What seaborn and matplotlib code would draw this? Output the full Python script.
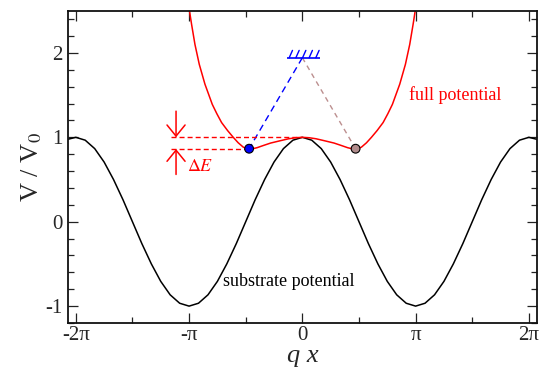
import numpy as np
import pandas as pd
import matplotlib
matplotlib.use("Agg")
import matplotlib.pyplot as plt
from matplotlib.ticker import MultipleLocator, FixedLocator
import seaborn as sns

# ---------------- data (x in units of pi) ----------------
substrate_x = [-2.069, -2.000, -1.917, -1.833, -1.750, -1.667, -1.583, -1.500, -1.417, -1.333,
               -1.250, -1.167, -1.083, -1.000, -0.917, -0.833, -0.750, -0.667, -0.583, -0.500,
               -0.417, -0.333, -0.250, -0.167, -0.083, 0.000, 0.083, 0.167, 0.250, 0.333,
               0.417, 0.500, 0.583, 0.667, 0.750, 0.833, 0.917, 1.000, 1.083, 1.167,
               1.250, 1.333, 1.417, 1.500, 1.583, 1.667, 1.750, 1.833, 1.917, 2.000, 2.069]
substrate_y = [0.977, 1.000, 0.966, 0.866, 0.707, 0.500, 0.259, 0.000, -0.259, -0.500,
               -0.707, -0.866, -0.966, -1.000, -0.966, -0.866, -0.707, -0.500, -0.259, 0.000,
               0.259, 0.500, 0.707, 0.866, 0.966, 1.000, 0.966, 0.866, 0.707, 0.500,
               0.259, 0.000, -0.259, -0.500, -0.707, -0.866, -0.966, -1.000, -0.966, -0.866,
               -0.707, -0.500, -0.259, 0.000, 0.259, 0.500, 0.707, 0.866, 0.966, 1.000, 0.977]

full_x = [-1.000, -0.978, -0.948, -0.910, -0.860, -0.795, -0.755, -0.713, -0.660, -0.610,
          -0.566, -0.522, -0.495, -0.470, -0.440, -0.400, -0.340, -0.280, -0.200, -0.120,
          -0.060, 0.000,
          0.060, 0.120, 0.200, 0.280, 0.340, 0.400, 0.440, 0.470, 0.495, 0.522,
          0.566, 0.610, 0.660, 0.713, 0.755, 0.795, 0.860, 0.910, 0.948, 0.978, 1.000]
full_y = [2.53, 2.34, 2.10, 1.865, 1.63, 1.39, 1.28, 1.175, 1.08, 1.00,
          0.935, 0.884, 0.868, 0.862, 0.864, 0.877, 0.905, 0.932, 0.958, 0.983,
          0.995, 1.00,
          0.995, 0.983, 0.958, 0.932, 0.905, 0.877, 0.864, 0.862, 0.868, 0.884,
          0.935, 1.00, 1.08, 1.175, 1.28, 1.39, 1.63, 1.865, 2.10, 2.34, 2.53]

particle_x = [-0.470, 0.470]
particle_y = [0.865, 0.865]
particle_names = ["left", "right"]

anchor_x = [-0.134, 0.154]
anchor_y = 1.943
hatch_x = [-0.116, -0.057, 0.002, 0.060, 0.119]
hatch_dx = 0.029
hatch_top = 2.03

barrier_top = 1.0
barrier_bottom = 0.862
barrier_left = -1.16
arrow_x = -1.115
arrow_top_start = 1.31
arrow_bottom_start = 0.56

xtick_pos = [-2, -1, 0, 1, 2]
xtick_labels = ["-2\u03c0", "-\u03c0", "0", "\u03c0", "2\u03c0"]
xminor_pos = [-1.5, -0.5, 0.5, 1.5]
ytick_pos = [-1, 0, 1, 2]
ytick_labels = ["-1", "0", "1", "2"]

# ---------------- style ----------------
sns.set_style("ticks")
plt.rcParams["font.family"] = ["Liberation Serif", "DejaVu Serif"]
plt.rcParams["mathtext.fontset"] = "stix"

fig = plt.figure(figsize=(5.43, 3.67), dpi=100)
ax = fig.add_axes([0.1252, 0.1199, 0.8632, 0.8509])

sub_df = pd.DataFrame({"x": substrate_x, "y": substrate_y})
full_df = pd.DataFrame({"x": full_x, "y": full_y})

sns.lineplot(data=sub_df, x="x", y="y", ax=ax, color="black", lw=1.1)
sns.lineplot(data=full_df, x="x", y="y", ax=ax, color="red", lw=1.1)

# springs
ax.plot([0, particle_x[0]], [anchor_y, particle_y[0]], color="blue", lw=1.0,
        linestyle=(0, (4.8, 3.2)))
ax.plot([0, particle_x[1]], [anchor_y, particle_y[1]], color="#bc8f8f", lw=1.0,
        linestyle=(0, (3.6, 3.0)))

# anchor with hatch
ax.plot(anchor_x, [anchor_y, anchor_y], color="blue", lw=1.2, solid_capstyle="butt")
for hx in hatch_x:
    ax.plot([hx, hx + hatch_dx], [anchor_y, hatch_top], color="blue", lw=1.0)

# barrier dashed lines
ax.plot([barrier_left, 0], [barrier_top, barrier_top], color="red", lw=1.0,
        linestyle=(0, (3.6, 2.2)))
ax.plot([barrier_left, particle_x[0]], [barrier_bottom, barrier_bottom], color="red", lw=1.0,
        linestyle=(0, (3.6, 2.2)))

# particles
pts = pd.DataFrame({"x": particle_x, "y": particle_y, "p": particle_names})
sns.scatterplot(data=pts, x="x", y="y", hue="p", palette={"left": "blue", "right": "#b08c8c"},
                s=40, edgecolor="black", linewidth=0.8, ax=ax, legend=False, zorder=5)

# Delta E arrows
arrstyle = "->,head_length=0.8,head_width=0.65"
ax.annotate("", xy=(arrow_x, barrier_top), xytext=(arrow_x, arrow_top_start),
            arrowprops=dict(arrowstyle=arrstyle, color="red", lw=1.1,
                            shrinkA=0, shrinkB=0, mutation_scale=10))
ax.annotate("", xy=(arrow_x, barrier_bottom), xytext=(arrow_x, arrow_bottom_start),
            arrowprops=dict(arrowstyle=arrstyle, color="red", lw=1.1,
                            shrinkA=0, shrinkB=0, mutation_scale=10))
ax.text(-1.018, 0.658, r"$\Delta E$", color="red", fontsize=13, ha="left", va="center")

ax.text(0.939, 1.50, "full potential", color="red", fontsize=13, ha="left", va="center")
ax.text(-0.701, -0.713, "substrate potential", color="black", fontsize=13,
        ha="left", va="center")

# axes
ax.set_xlim(-2.069, 2.069)
ax.set_ylim(-1.2, 2.5)
ax.set_xticks(xtick_pos)
ax.set_xticklabels(xtick_labels)
ax.xaxis.set_minor_locator(FixedLocator(xminor_pos))
ax.set_yticks(ytick_pos)
ax.set_yticklabels(ytick_labels)
ax.yaxis.set_minor_locator(MultipleLocator(0.2))
ax.tick_params(which="both", direction="in", top=True, right=True, labelsize=15,
               color="#222222")
ax.tick_params(which="major", length=7, width=0.9)
ax.tick_params(which="minor", length=4, width=0.9)
ax.tick_params(axis="x", which="major", pad=2)
ax.tick_params(axis="y", which="major", pad=4)
for sp in ax.spines.values():
    sp.set_linewidth(1.3)
    sp.set_color("#111111")

ax.set_xlabel("q x", fontsize=19, fontstyle="italic", labelpad=0)
ax.set_ylabel("V / V$_0$", fontsize=19, labelpad=1)

fig.savefig("out.png", dpi=100)
